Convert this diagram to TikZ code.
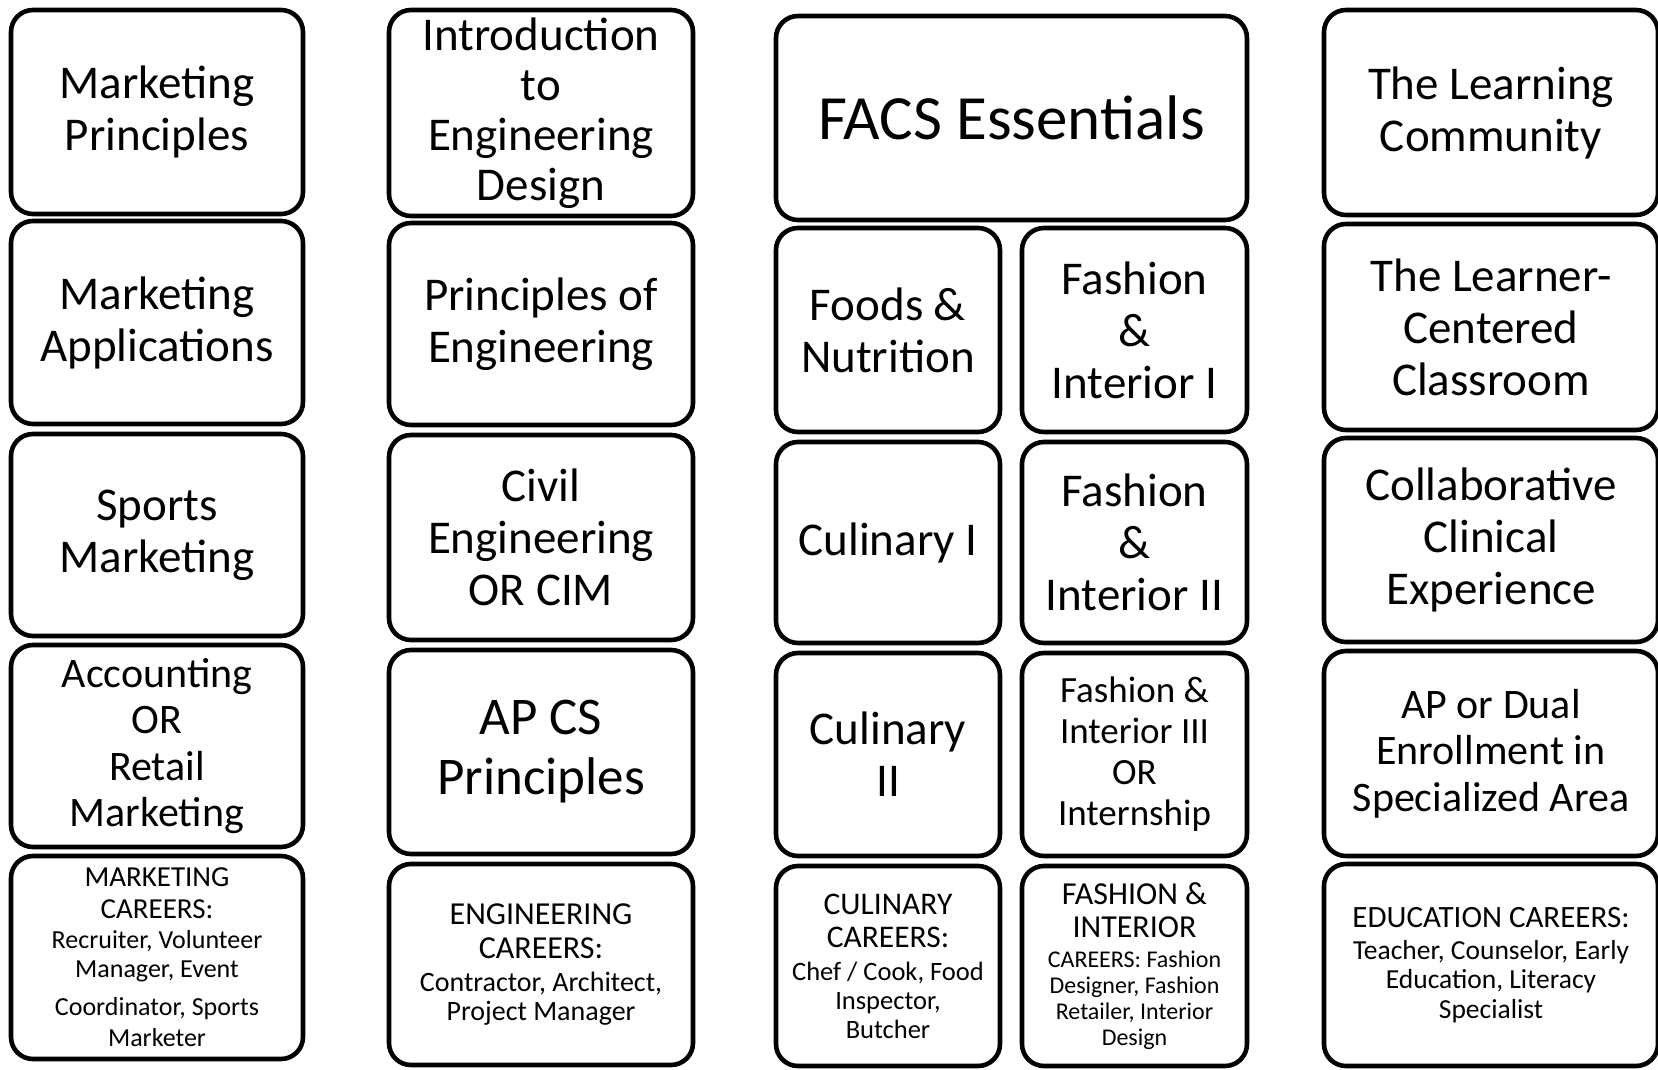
\documentclass[tikz,border=0pt]{standalone}
\usepackage{fontspec}
\setmainfont{Carlito}
\newcommand{\fsz}[2]{\fontsize{#1pt}{#2pt}\selectfont}

\begin{document}
\begin{tikzpicture}[
    x=1pt, y=-1pt,
    % 課程方塊 (圓角黑框)
    course/.style={draw, line width=4.6pt, rounded corners=22pt,
                   align=center, inner sep=0pt, font=\fsz{47}{52}},
    % 職涯方塊: font 為內文字級, 標題行另外指定
    career/.style={course},
]
    % --- 定義座標參數 ---
    \def\xA{157}    \def\wA{292pt}  % 第一欄 Marketing
    \def\xB{541}    \def\wB{304pt}  % 第二欄 Engineering
    \def\xC{1011.5} \def\wC{471pt}  % 第三欄 FACS (整體)
    \def\xCl{888}   \def\wCl{224pt} % FACS 左半 (Culinary)
    \def\xCr{1134.5}\def\wCr{225pt} % FACS 右半 (Fashion)
    \def\xD{1491}   \def\wD{334pt}  % 第四欄 Education (右緣貼齊邊界)

    % 固定畫面大小
    \useasboundingbox (0,0) rectangle (1658,1070);

    % --- 1. Marketing ---
    \node[course, minimum width=\wA, minimum height=204pt] (mktPrin)  at (\xA, 112)   {Marketing\\Principles};
    \node[course, minimum width=\wA, minimum height=203pt] (mktApp)   at (\xA, 322.5) {Marketing\\Applications};
    \node[course, minimum width=\wA, minimum height=202pt] (mktSport) at (\xA, 535)   {Sports\\Marketing};
    \node[course, minimum width=\wA, minimum height=202pt, font=\fsz{42}{46.5}] (mktAcct) at (\xA, 746)
        {Accounting\\OR\\Retail\\Marketing};
    \node[career, minimum width=\wA, minimum height=203pt, font=\fsz{26}{29.5}] (mktCareer) at (\xA, 957.5)
        {\fsz{29}{31.5}MARKETING\\[2.5pt]\fsz{29}{31.5}CAREERS:\\Recruiter, Volunteer\\Manager, Event\\[8.5pt]Coordinator, Sports\\[1.5pt]Marketer};

    % --- 2. Engineering ---
    \node[course, minimum width=\wB, minimum height=206pt, font=\fsz{47}{50}] (engIntro) at (\xB, 113)
        {Introduction\\to\\Engineering\\Design};
    \node[course, minimum width=\wB, minimum height=202pt] (engPrin)  at (\xB, 324)   {Principles of\\Engineering};
    \node[course, minimum width=\wB, minimum height=205pt] (engCivil) at (\xB, 537.5) {Civil\\Engineering\\OR CIM};
    \node[course, minimum width=\wB, minimum height=204pt, font=\fsz{53}{60}] (engCS) at (\xB, 752)
        {AP CS\\Principles};
    \node[career, minimum width=\wB, minimum height=201pt, font=\fsz{28}{29.5}] (engCareer) at (\xB, 964.5)
        {\fsz{32}{33.5}ENGINEERING\\[4.5pt]\fsz{32}{33.5}CAREERS:\\[3.5pt]Contractor, Architect,\\Project Manager};

    % --- 3. FACS (上方一格, 下方分兩欄) ---
    \node[course, minimum width=\wC, minimum height=204pt, font=\fsz{63}{70}] (facsEss) at (\xC, 118)
        {FACS Essentials};

    % 左半: Foods / Culinary
    \node[course, minimum width=\wCl, minimum height=204pt] (facsFoods) at (\xCl, 330)   {Foods \&\\Nutrition};
    \node[course, minimum width=\wCl, minimum height=201pt] (facsCul1)  at (\xCl, 542.5) {Culinary I};
    \node[course, minimum width=\wCl, minimum height=203pt] (facsCul2)  at (\xCl, 754.5) {Culinary\\II};
    \node[career, minimum width=\wCl, minimum height=200pt, font=\fsz{26.5}{29}] (facsCulCareer) at (\xCl, 966)
        {\fsz{31.5}{33}CULINARY\\[4pt]\fsz{31.5}{33}CAREERS:\\[4pt]Chef / Cook, Food\\Inspector,\\Butcher};

    % 右半: Fashion & Interior
    \node[course, minimum width=\wCr, minimum height=204pt] (facsFash1) at (\xCr, 330)   {Fashion\\\&\\Interior I};
    \node[course, minimum width=\wCr, minimum height=201pt] (facsFash2) at (\xCr, 542.5) {Fashion\\\&\\Interior II};
    \node[course, minimum width=\wCr, minimum height=203pt, font=\fsz{37}{41}] (facsFash3) at (\xCr, 754.5)
        {Fashion \&\\Interior III\\OR\\Internship};
    \node[career, minimum width=\wCr, minimum height=200pt, font=\fsz{24}{26}] (facsFashCareer) at (\xCr, 966)
        {\fsz{32}{33}FASHION \&\\[7pt]\fsz{32}{33}INTERIOR\\[4pt]CAREERS: Fashion\\Designer, Fashion\\Retailer, Interior\\Design};

    % --- 4. Education ---
    \node[course, minimum width=\wD, minimum height=205pt] (eduComm)   at (\xD, 112.5) {The Learning\\Community};
    \node[course, minimum width=\wD, minimum height=206pt] (eduClass)  at (\xD, 327)   {The Learner-\\Centered\\Classroom};
    \node[course, minimum width=\wD, minimum height=204pt] (eduClinic) at (\xD, 540)   {Collaborative\\Clinical\\Experience};
    \node[course, minimum width=\wD, minimum height=205pt, font=\fsz{42}{46.5}] (eduAP) at (\xD, 753.5)
        {AP or Dual\\Enrollment in\\Specialized Area};
    \node[career, minimum width=\wD, minimum height=202pt, font=\fsz{27.5}{29.5}] (eduCareer) at (\xD, 965)
        {\fsz{31}{32}EDUCATION CAREERS:\\[2.5pt]Teacher, Counselor, Early\\Education, Literacy\\Specialist};

\end{tikzpicture}
\end{document}
